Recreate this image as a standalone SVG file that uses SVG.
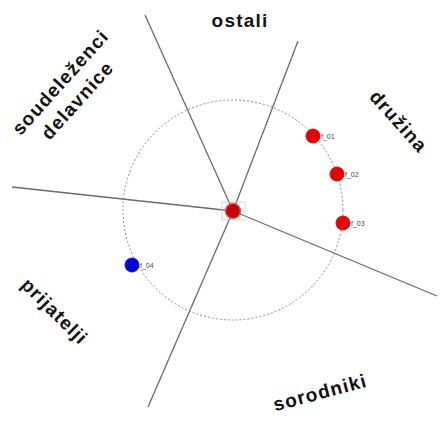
<svg xmlns="http://www.w3.org/2000/svg" width="440" height="423" viewBox="0 0 440 423">
<style>
.sector{font-family:"Liberation Sans",Arial,sans-serif;font-weight:bold;font-size:19px;letter-spacing:1.2px;fill:#111;text-anchor:middle}
.lbl{font-family:"Liberation Sans",Arial,sans-serif;font-size:7px;fill:#444}
.div{stroke:#6a6a6a;stroke-width:1.3;fill:none}
.alter{fill:#e60000;stroke:#cc1010;stroke-width:1}
</style>
<rect width="440" height="423" fill="#fff"/>
<g id="ring">
<circle cx="233" cy="210" r="110" fill="none" stroke="#8a8a8a" stroke-width="1" stroke-dasharray="2,2"/>
</g>
<g id="connectors">
<line class="div" x1="233" y1="211" x2="145" y2="15"/>
<line class="div" x1="233" y1="211" x2="298" y2="41"/>
<line class="div" x1="233" y1="211" x2="12" y2="187"/>
<line class="div" x1="233" y1="211" x2="437" y2="296"/>
<line class="div" x1="233" y1="211" x2="148" y2="407"/>
</g>
<g id="sectors">
<text class="sector" x="240" y="27">ostali</text>
<text class="sector" transform="translate(60,82) rotate(-48)" x="0" y="7">soudeleženci</text>
<text class="sector" transform="translate(77,100) rotate(-48)" x="0" y="7">delavnice</text>
<text class="sector" transform="translate(399,121) rotate(48)" x="0" y="7">družina</text>
<text class="sector" transform="translate(55,311) rotate(45)" x="0" y="7" letter-spacing="2">prijatelji</text>
<text class="sector" transform="translate(320,392) rotate(-15)" x="0" y="7">sorodniki</text>
</g>
<g id="ego">
<rect x="222" y="202" width="23" height="18" fill="none" stroke="#ccc" stroke-width="0.8"/>
<circle cx="233" cy="211" r="7.5" fill="#c40000" stroke="#e85050" stroke-width="1.5"/>
</g>
<g id="f_01">
<circle class="alter" cx="313" cy="136" r="7"/>
<text class="lbl" x="321" y="139">f_01</text>
</g>
<g id="f_02">
<circle class="alter" cx="337" cy="174" r="7"/>
<text class="lbl" x="345" y="177">f_02</text>
</g>
<g id="f_03">
<circle class="alter" cx="343" cy="223" r="7"/>
<text class="lbl" x="351" y="226">f_03</text>
</g>
<g id="f_04">
<circle cx="132" cy="265" r="7" fill="#0000dd" stroke="#1010bb" stroke-width="1"/>
<text class="lbl" x="140" y="268">f_04</text>
</g>
</svg>
